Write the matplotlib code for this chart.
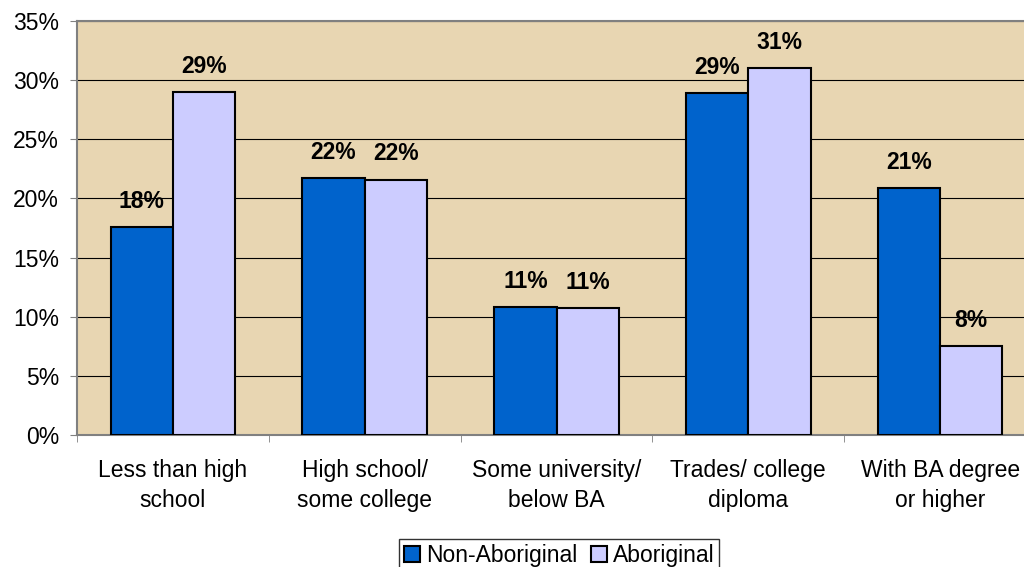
import matplotlib.pyplot as plt
import numpy as np

plt.rcParams['font.family'] = ['Liberation Sans', 'DejaVu Sans']

categories = ['Less than high\nschool', 'High school/\nsome college', 'Some university/\nbelow BA',
              'Trades/ college\ndiploma', 'With BA degree\nor higher']
non_aboriginal = [17.6, 21.7, 10.8, 28.9, 20.9]
aboriginal = [29.0, 21.6, 10.7, 31.0, 7.5]
non_labels = ['18%', '22%', '11%', '29%', '21%']
abo_labels = ['29%', '22%', '11%', '31%', '8%']

fig = plt.figure(figsize=(10.24, 5.67), dpi=100)
ax = fig.add_axes([77 / 1024, 1 - 435 / 567, 959 / 1024, 414 / 567])
ax.set_facecolor('#E8D6B2')

x = np.arange(len(categories))
w = 0.325
b1 = ax.bar(x - w / 2, non_aboriginal, w, color='#0063CC', edgecolor='black', linewidth=1.5,
            label='Non-Aboriginal', zorder=3)
b2 = ax.bar(x + w / 2, aboriginal, w, color='#CCCCFF', edgecolor='black', linewidth=1.5,
            label='Aboriginal', zorder=3)

for rect, lab in zip(b1, non_labels):
    ax.text(rect.get_x() + rect.get_width() / 2, rect.get_height() + 1.2, lab,
            ha='center', va='bottom', fontsize=16.5, fontweight='bold')
for rect, lab in zip(b2, abo_labels):
    ax.text(rect.get_x() + rect.get_width() / 2, rect.get_height() + 1.2, lab,
            ha='center', va='bottom', fontsize=16.5, fontweight='bold')

ax.set_xlim(-0.5, len(categories) - 0.5)
ax.set_ylim(0, 35)
ax.set_yticks(range(0, 36, 5))
ax.set_yticklabels([f'{v}%' for v in range(0, 36, 5)], fontsize=16.5)
ax.yaxis.grid(True, color='black', linewidth=0.8, zorder=0)

ax.set_xticks(x)
ax.set_xticklabels(categories, fontsize=16.5, linespacing=1.4)
ax.set_xticks(np.arange(-0.5, len(categories)), minor=True)
ax.tick_params(axis='x', which='major', length=0, pad=17)
ax.tick_params(axis='x', which='minor', length=5, color='gray')
ax.tick_params(axis='y', length=5, color='gray', pad=8)

for s in ['left', 'bottom', 'top']:
    ax.spines[s].set_color('gray')
    ax.spines[s].set_linewidth(1.5)
ax.spines['right'].set_visible(False)

leg = fig.legend(loc='lower center', bbox_to_anchor=(0.546, -0.028), ncol=2, fontsize=16.5,
                 frameon=True, fancybox=False, edgecolor='black', handlelength=0.7,
                 handleheight=0.7, handletextpad=0.25, columnspacing=0.6, borderpad=0.2)
leg.get_frame().set_linewidth(1.0)

fig.savefig('out.png', dpi=100)
